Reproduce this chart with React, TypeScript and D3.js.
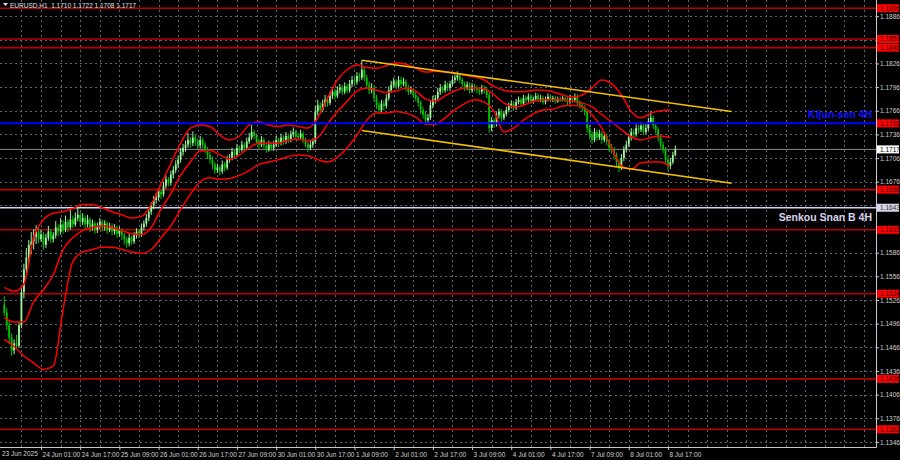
import { useRef, useEffect } from 'react'
import * as d3 from 'd3'

// open, high, low, close
type Bar = [number, number, number, number]

const jun23: Bar[] = [
  [1.1520, 1.1531, 1.1506, 1.1510], [1.1510, 1.1516, 1.1488, 1.1494], [1.1494, 1.1500, 1.1470, 1.1478],
  [1.1478, 1.1484, 1.1455, 1.1462], [1.1462, 1.1476, 1.1457, 1.1471], [1.1471, 1.1482, 1.1463, 1.1468],
  [1.1468, 1.1498, 1.1465, 1.1494], [1.1494, 1.1542, 1.1490, 1.1536], [1.1536, 1.1572, 1.1528, 1.1565],
  [1.1565, 1.1592, 1.1556, 1.1580], [1.1580, 1.1602, 1.1571, 1.1596], [1.1596, 1.1612, 1.1584, 1.1600],
  [1.1600, 1.1616, 1.1590, 1.1606], [1.1606, 1.1621, 1.1597, 1.1612],
]
const jun24: Bar[] = [
  [1.1612, 1.1618, 1.1598, 1.1603], [1.1603, 1.1615, 1.1600, 1.1609], [1.1609, 1.1612, 1.1590, 1.1596],
  [1.1596, 1.1610, 1.1592, 1.1605], [1.1605, 1.1620, 1.1601, 1.1613], [1.1613, 1.1616, 1.1598, 1.1603],
  [1.1603, 1.1612, 1.1599, 1.1608], [1.1608, 1.1626, 1.1604, 1.1618], [1.1618, 1.1622, 1.1607, 1.1613],
  [1.1613, 1.1630, 1.1609, 1.1622], [1.1622, 1.1627, 1.1610, 1.1615], [1.1615, 1.1633, 1.1612, 1.1625],
  [1.1625, 1.1629, 1.1612, 1.1618], [1.1618, 1.1640, 1.1615, 1.1628], [1.1628, 1.1633, 1.1617, 1.1622],
  [1.1622, 1.1637, 1.1619, 1.1630], [1.1630, 1.1645, 1.1626, 1.1634], [1.1634, 1.1638, 1.1620, 1.1625],
  [1.1625, 1.1636, 1.1621, 1.1630], [1.1630, 1.1633, 1.1616, 1.1622], [1.1622, 1.1634, 1.1618, 1.1628],
  [1.1628, 1.1631, 1.1612, 1.1618], [1.1618, 1.1628, 1.1614, 1.1623], [1.1623, 1.1626, 1.1610, 1.1615],
]
const jun25: Bar[] = [
  [1.1615, 1.1624, 1.1611, 1.1620], [1.1620, 1.1630, 1.1616, 1.1625], [1.1625, 1.1628, 1.1613, 1.1618],
  [1.1618, 1.1627, 1.1614, 1.1623], [1.1623, 1.1626, 1.1610, 1.1615], [1.1615, 1.1624, 1.1612, 1.1620],
  [1.1620, 1.1623, 1.1608, 1.1613], [1.1613, 1.1622, 1.1609, 1.1618], [1.1618, 1.1620, 1.1605, 1.1610],
  [1.1610, 1.1619, 1.1606, 1.1615], [1.1615, 1.1617, 1.1602, 1.1608], [1.1608, 1.1611, 1.1596, 1.1603],
  [1.1603, 1.1606, 1.1592, 1.1598], [1.1598, 1.1610, 1.1594, 1.1605], [1.1605, 1.1608, 1.1596, 1.1600],
  [1.1600, 1.1612, 1.1597, 1.1608], [1.1608, 1.1617, 1.1604, 1.1613], [1.1613, 1.1616, 1.1604, 1.1609],
  [1.1609, 1.1623, 1.1606, 1.1618], [1.1618, 1.1627, 1.1614, 1.1623], [1.1623, 1.1635, 1.1619, 1.1630],
  [1.1630, 1.1642, 1.1626, 1.1638], [1.1638, 1.1650, 1.1634, 1.1646], [1.1646, 1.1658, 1.1641, 1.1653],
]
const jun26: Bar[] = [
  [1.1653, 1.1662, 1.1648, 1.1656], [1.1656, 1.1668, 1.1652, 1.1663], [1.1663, 1.1666, 1.1654, 1.1660],
  [1.1660, 1.1676, 1.1657, 1.1671], [1.1671, 1.1684, 1.1667, 1.1679], [1.1679, 1.1682, 1.1670, 1.1675],
  [1.1675, 1.1690, 1.1671, 1.1685], [1.1685, 1.1696, 1.1680, 1.1691], [1.1691, 1.1703, 1.1687, 1.1698],
  [1.1698, 1.1709, 1.1693, 1.1704], [1.1704, 1.1719, 1.1700, 1.1714], [1.1714, 1.1724, 1.1709, 1.1719],
  [1.1719, 1.1728, 1.1714, 1.1723], [1.1723, 1.1738, 1.1719, 1.1729], [1.1729, 1.1733, 1.1719, 1.1725],
  [1.1725, 1.1740, 1.1721, 1.1732], [1.1732, 1.1736, 1.1722, 1.1727], [1.1727, 1.1731, 1.1717, 1.1722],
  [1.1722, 1.1734, 1.1718, 1.1729], [1.1729, 1.1732, 1.1718, 1.1723], [1.1723, 1.1726, 1.1712, 1.1717],
  [1.1717, 1.1720, 1.1705, 1.1710], [1.1710, 1.1714, 1.1699, 1.1704], [1.1704, 1.1708, 1.1692, 1.1698],
]
const jun27: Bar[] = [
  [1.1698, 1.1701, 1.1686, 1.1691], [1.1691, 1.1699, 1.1687, 1.1694], [1.1694, 1.1697, 1.1684, 1.1689],
  [1.1689, 1.1703, 1.1686, 1.1698], [1.1698, 1.1701, 1.1689, 1.1694], [1.1694, 1.1709, 1.1691, 1.1704],
  [1.1704, 1.1711, 1.1700, 1.1706], [1.1706, 1.1719, 1.1703, 1.1714], [1.1714, 1.1717, 1.1705, 1.1710],
  [1.1710, 1.1724, 1.1707, 1.1719], [1.1719, 1.1722, 1.1712, 1.1717], [1.1717, 1.1728, 1.1714, 1.1723],
  [1.1723, 1.1726, 1.1715, 1.1719], [1.1719, 1.1732, 1.1716, 1.1727], [1.1727, 1.1738, 1.1724, 1.1732],
  [1.1732, 1.1748, 1.1729, 1.1739], [1.1739, 1.1742, 1.1730, 1.1734], [1.1734, 1.1737, 1.1723, 1.1727],
  [1.1727, 1.1730, 1.1718, 1.1723], [1.1723, 1.1734, 1.1720, 1.1729], [1.1729, 1.1732, 1.1718, 1.1722],
  [1.1722, 1.1725, 1.1713, 1.1717], [1.1717, 1.1728, 1.1714, 1.1723], [1.1723, 1.1726, 1.1715, 1.1719],
]
const jun30: Bar[] = [
  [1.1719, 1.1728, 1.1715, 1.1723], [1.1723, 1.1734, 1.1720, 1.1729], [1.1729, 1.1732, 1.1720, 1.1725],
  [1.1725, 1.1737, 1.1722, 1.1732], [1.1732, 1.1735, 1.1723, 1.1727], [1.1727, 1.1739, 1.1724, 1.1734],
  [1.1734, 1.1737, 1.1725, 1.1729], [1.1729, 1.1741, 1.1726, 1.1736], [1.1736, 1.1745, 1.1732, 1.1739],
  [1.1739, 1.1742, 1.1730, 1.1734], [1.1734, 1.1738, 1.1728, 1.1732], [1.1732, 1.1742, 1.1729, 1.1737],
  [1.1737, 1.1740, 1.1725, 1.1729], [1.1729, 1.1732, 1.1720, 1.1724], [1.1724, 1.1727, 1.1713, 1.1719],
  [1.1719, 1.1728, 1.1716, 1.1723], [1.1723, 1.1731, 1.1719, 1.1727], [1.1727, 1.1772, 1.1724, 1.1765],
  [1.1765, 1.1780, 1.1760, 1.1773], [1.1773, 1.1777, 1.1762, 1.1767], [1.1767, 1.1780, 1.1764, 1.1775],
  [1.1775, 1.1786, 1.1771, 1.1780], [1.1780, 1.1784, 1.1771, 1.1776], [1.1776, 1.1790, 1.1773, 1.1785],
]
const jul01: Bar[] = [
  [1.1785, 1.1796, 1.1781, 1.1790], [1.1790, 1.1794, 1.1780, 1.1785], [1.1785, 1.1797, 1.1782, 1.1792],
  [1.1792, 1.1800, 1.1788, 1.1795], [1.1795, 1.1799, 1.1786, 1.1790], [1.1790, 1.1802, 1.1787, 1.1797],
  [1.1797, 1.1800, 1.1788, 1.1792], [1.1792, 1.1805, 1.1789, 1.1800], [1.1800, 1.1810, 1.1796, 1.1805],
  [1.1805, 1.1809, 1.1798, 1.1803], [1.1803, 1.1815, 1.1799, 1.1810], [1.1810, 1.1814, 1.1803, 1.1808],
  [1.1808, 1.1830, 1.1805, 1.1818], [1.1818, 1.1822, 1.1804, 1.1808], [1.1808, 1.1812, 1.1794, 1.1799],
  [1.1799, 1.1803, 1.1787, 1.1792], [1.1792, 1.1801, 1.1788, 1.1795], [1.1795, 1.1798, 1.1778, 1.1782],
  [1.1782, 1.1786, 1.1768, 1.1773], [1.1773, 1.1777, 1.1762, 1.1767], [1.1767, 1.1780, 1.1764, 1.1775],
  [1.1775, 1.1779, 1.1766, 1.1772], [1.1772, 1.1787, 1.1769, 1.1782], [1.1782, 1.1797, 1.1779, 1.1792],
]
const jul02: Bar[] = [
  [1.1792, 1.1804, 1.1789, 1.1799], [1.1799, 1.1808, 1.1795, 1.1803], [1.1803, 1.1806, 1.1793, 1.1797],
  [1.1797, 1.1810, 1.1794, 1.1805], [1.1805, 1.1809, 1.1796, 1.1800], [1.1800, 1.1808, 1.1797, 1.1803],
  [1.1803, 1.1806, 1.1791, 1.1795], [1.1795, 1.1799, 1.1786, 1.1790], [1.1790, 1.1797, 1.1787, 1.1792],
  [1.1792, 1.1795, 1.1782, 1.1786], [1.1786, 1.1790, 1.1778, 1.1782], [1.1782, 1.1785, 1.1771, 1.1776],
  [1.1776, 1.1779, 1.1762, 1.1767], [1.1767, 1.1771, 1.1756, 1.1761], [1.1761, 1.1765, 1.1748, 1.1754],
  [1.1754, 1.1762, 1.1750, 1.1757], [1.1757, 1.1779, 1.1754, 1.1773], [1.1773, 1.1785, 1.1769, 1.1780],
  [1.1780, 1.1786, 1.1775, 1.1782], [1.1782, 1.1795, 1.1779, 1.1790], [1.1790, 1.1800, 1.1786, 1.1795],
  [1.1795, 1.1798, 1.1788, 1.1792], [1.1792, 1.1804, 1.1789, 1.1799], [1.1799, 1.1802, 1.1791, 1.1795],
]
const jul03: Bar[] = [
  [1.1795, 1.1804, 1.1791, 1.1800], [1.1800, 1.1810, 1.1797, 1.1805], [1.1805, 1.1812, 1.1801, 1.1808],
  [1.1808, 1.1816, 1.1804, 1.1811], [1.1811, 1.1814, 1.1801, 1.1805], [1.1805, 1.1808, 1.1796, 1.1800],
  [1.1800, 1.1803, 1.1791, 1.1795], [1.1795, 1.1803, 1.1792, 1.1799], [1.1799, 1.1802, 1.1788, 1.1792],
  [1.1792, 1.1801, 1.1789, 1.1797], [1.1797, 1.1800, 1.1791, 1.1795], [1.1795, 1.1798, 1.1788, 1.1792],
  [1.1792, 1.1796, 1.1786, 1.1790], [1.1790, 1.1799, 1.1787, 1.1795], [1.1795, 1.1798, 1.1788, 1.1792],
  [1.1792, 1.1796, 1.1782, 1.1786], [1.1786, 1.1790, 1.1738, 1.1744], [1.1744, 1.1758, 1.1740, 1.1754],
  [1.1754, 1.1757, 1.1744, 1.1749], [1.1749, 1.1764, 1.1746, 1.1760], [1.1760, 1.1769, 1.1756, 1.1765],
  [1.1765, 1.1768, 1.1752, 1.1757], [1.1757, 1.1766, 1.1754, 1.1762], [1.1762, 1.1771, 1.1759, 1.1767],
]
const jul04: Bar[] = [
  [1.1767, 1.1776, 1.1764, 1.1772], [1.1772, 1.1779, 1.1769, 1.1775], [1.1775, 1.1778, 1.1766, 1.1770],
  [1.1770, 1.1781, 1.1767, 1.1777], [1.1777, 1.1784, 1.1774, 1.1780], [1.1780, 1.1783, 1.1771, 1.1775],
  [1.1775, 1.1786, 1.1772, 1.1782], [1.1782, 1.1785, 1.1776, 1.1780], [1.1780, 1.1788, 1.1777, 1.1784],
  [1.1784, 1.1787, 1.1775, 1.1778], [1.1778, 1.1784, 1.1775, 1.1781], [1.1781, 1.1789, 1.1778, 1.1785],
  [1.1785, 1.1788, 1.1777, 1.1780], [1.1780, 1.1786, 1.1777, 1.1782], [1.1782, 1.1785, 1.1774, 1.1777],
  [1.1777, 1.1784, 1.1774, 1.1781], [1.1781, 1.1788, 1.1778, 1.1784], [1.1784, 1.1787, 1.1777, 1.1780],
  [1.1780, 1.1785, 1.1777, 1.1782], [1.1782, 1.1785, 1.1775, 1.1778], [1.1778, 1.1784, 1.1776, 1.1781],
  [1.1781, 1.1784, 1.1777, 1.1780], [1.1780, 1.1785, 1.1778, 1.1782], [1.1782, 1.1784, 1.1777, 1.1780],
]
const jul07: Bar[] = [
  [1.1780, 1.1784, 1.1773, 1.1777], [1.1777, 1.1786, 1.1774, 1.1782], [1.1782, 1.1785, 1.1776, 1.1780],
  [1.1780, 1.1788, 1.1777, 1.1784], [1.1784, 1.1787, 1.1772, 1.1776], [1.1776, 1.1779, 1.1769, 1.1773],
  [1.1773, 1.1776, 1.1765, 1.1770], [1.1770, 1.1773, 1.1760, 1.1765], [1.1765, 1.1768, 1.1738, 1.1744],
  [1.1744, 1.1748, 1.1730, 1.1736], [1.1736, 1.1740, 1.1724, 1.1729], [1.1729, 1.1744, 1.1726, 1.1739],
  [1.1739, 1.1742, 1.1728, 1.1732], [1.1732, 1.1742, 1.1729, 1.1737], [1.1737, 1.1740, 1.1724, 1.1729],
  [1.1729, 1.1739, 1.1726, 1.1734], [1.1734, 1.1737, 1.1722, 1.1727], [1.1727, 1.1730, 1.1714, 1.1719],
  [1.1719, 1.1724, 1.1712, 1.1717], [1.1717, 1.1720, 1.1704, 1.1710], [1.1710, 1.1713, 1.1695, 1.1701],
  [1.1701, 1.1705, 1.1688, 1.1694], [1.1694, 1.1711, 1.1691, 1.1706], [1.1706, 1.1721, 1.1702, 1.1717],
]
const jul08: Bar[] = [
  [1.1717, 1.1728, 1.1713, 1.1723], [1.1723, 1.1737, 1.1720, 1.1732], [1.1732, 1.1744, 1.1728, 1.1739],
  [1.1739, 1.1743, 1.1731, 1.1736], [1.1736, 1.1749, 1.1733, 1.1744], [1.1744, 1.1748, 1.1737, 1.1742],
  [1.1742, 1.1752, 1.1739, 1.1747], [1.1747, 1.1750, 1.1735, 1.1739], [1.1739, 1.1749, 1.1736, 1.1744],
  [1.1744, 1.1757, 1.1741, 1.1752], [1.1752, 1.1765, 1.1749, 1.1757], [1.1757, 1.1760, 1.1743, 1.1747],
  [1.1747, 1.1750, 1.1737, 1.1742], [1.1742, 1.1745, 1.1727, 1.1732], [1.1732, 1.1735, 1.1718, 1.1723],
  [1.1723, 1.1727, 1.1712, 1.1717], [1.1717, 1.1720, 1.1699, 1.1704], [1.1704, 1.1708, 1.1690, 1.1696],
  [1.1696, 1.1706, 1.1692, 1.1701], [1.1701, 1.1714, 1.1698, 1.1710], [1.1710, 1.1722, 1.1708, 1.1717],
]

const candles: Bar[] = [
  ...jun23, ...jun24, ...jun25, ...jun26, ...jun27,
  ...jun30, ...jul01, ...jul02, ...jul03, ...jul04,
  ...jul07, ...jul08,
]

// Bollinger bands, read every 4th bar
const bandStep = 4
const upperBand = [
  1.1542, 1.1537, 1.1546, 1.1605, 1.1628, 1.1636, 1.1638, 1.1642, 1.1647, 1.1647,
  1.1643, 1.1638, 1.1634, 1.1630, 1.1632, 1.1647, 1.1673, 1.1699, 1.1725, 1.1744,
  1.1748, 1.1746, 1.1735, 1.1729, 1.1734, 1.1748, 1.1752, 1.1748, 1.1746, 1.1748,
  1.1746, 1.1744, 1.1757, 1.1782, 1.1805, 1.1818, 1.1824, 1.1821, 1.1820, 1.1823,
  1.1827, 1.1825, 1.1820, 1.1815, 1.1816, 1.1815, 1.1814, 1.1811, 1.1809, 1.1805,
  1.1797, 1.1792, 1.1790, 1.1790, 1.1792, 1.1792, 1.1790, 1.1786, 1.1783, 1.1786,
  1.1795, 1.1805, 1.1800, 1.1786, 1.1765, 1.1757, 1.1763, 1.1766, 1.1767,
]
const middleBand = [
  1.1504, 1.1498, 1.1498, 1.1524, 1.1539, 1.1558, 1.1590, 1.1605, 1.1614, 1.1618,
  1.1620, 1.1618, 1.1614, 1.1610, 1.1609, 1.1618, 1.1641, 1.1661, 1.1684, 1.1701,
  1.1715, 1.1716, 1.1710, 1.1705, 1.1710, 1.1719, 1.1725, 1.1725, 1.1725, 1.1729,
  1.1730, 1.1728, 1.1732, 1.1749, 1.1765, 1.1778, 1.1791, 1.1795, 1.1792, 1.1789,
  1.1791, 1.1795, 1.1791, 1.1781, 1.1778, 1.1785, 1.1791, 1.1795, 1.1795, 1.1794,
  1.1786, 1.1776, 1.1771, 1.1773, 1.1778, 1.1780, 1.1780, 1.1780, 1.1778, 1.1776,
  1.1771, 1.1761, 1.1752, 1.1742, 1.1733, 1.1729, 1.1732, 1.1734, 1.1732,
]
const lowerBand = [
  1.1476, 1.1467, 1.1455, 1.1446, 1.1438, 1.1442, 1.1514, 1.1575, 1.1587, 1.1590,
  1.1593, 1.1593, 1.1590, 1.1587, 1.1585, 1.1590, 1.1605, 1.1620, 1.1641, 1.1660,
  1.1676, 1.1681, 1.1679, 1.1680, 1.1684, 1.1690, 1.1698, 1.1701, 1.1704, 1.1708,
  1.1710, 1.1709, 1.1704, 1.1701, 1.1707, 1.1719, 1.1735, 1.1754, 1.1763, 1.1763,
  1.1765, 1.1763, 1.1758, 1.1749, 1.1749, 1.1757, 1.1767, 1.1775, 1.1780, 1.1777,
  1.1765, 1.1739, 1.1744, 1.1754, 1.1762, 1.1767, 1.1768, 1.1772, 1.1773, 1.1771,
  1.1761, 1.1744, 1.1719, 1.1696, 1.1692, 1.1700, 1.1701, 1.1701, 1.1695,
]

// trend channel: [bar index, price]
const channelTop: [number, number][] = [[146, 1.1830], [297, 1.1765]]
const channelBottom: [number, number][] = [[146, 1.1741], [297, 1.1674]]

const redLevels = [1.1896, 1.1857, 1.1846, 1.1666, 1.1615, 1.1534, 1.1426, 1.1362]
const kijun4h = 1.1750
const senkouB4h = 1.1643
const lastPrice = 1.1717

const priceTicks = [
  1.1886, 1.1856, 1.1826, 1.1796, 1.1766, 1.1736, 1.1706, 1.1676, 1.1646, 1.1616,
  1.1586, 1.1556, 1.1526, 1.1496, 1.1466, 1.1436, 1.1406, 1.1376, 1.1346,
]
const firstDateLabel = '23 Jun 2025'
const timeLabels = [
  '24 Jun 01:00', '24 Jun 17:00', '25 Jun 09:00', '26 Jun 01:00', '26 Jun 17:00',
  '27 Jun 09:00', '30 Jun 01:00', '30 Jun 17:00', '1 Jul 09:00', '2 Jul 01:00',
  '2 Jul 17:00', '3 Jul 09:00', '4 Jul 01:00', '4 Jul 17:00', '7 Jul 09:00',
  '8 Jul 01:00', '8 Jul 17:00',
]
const firstLabelBar = 15
const labelEvery = 16

const title = 'EURUSD,H1  1.1710 1.1722 1.1708 1.1717'

const W = 900
const H = 460
const plotRight = 876
const plotBottom = 447
const font = '"Liberation Sans", Arial, sans-serif'

const App = () => {
  const svgRef = useRef<SVGSVGElement>(null)

  useEffect(() => {
    if (!svgRef.current) return
    const svg = d3.select(svgRef.current)
    svg.selectAll('*').remove()

    const x = d3.scaleLinear().domain([0, candles.length - 1]).range([4.3, 675.3])
    const y = d3.scaleLinear().domain([1.1362, 1.1857]).range([429.3, 39])

    svg.append('rect').attr('width', W).attr('height', H).attr('fill', '#000')

    svg.append('defs').append('clipPath').attr('id', 'plot')
      .append('rect').attr('width', plotRight).attr('height', plotBottom)

    const g = svg.append('g').attr('clip-path', 'url(#plot)')

    // grid
    const gridBars = d3.range(7, 360, 8)
    g.selectAll('.vgrid').data(gridBars).join('line')
      .attr('x1', d => Math.round(x(d)) + 0.5).attr('x2', d => Math.round(x(d)) + 0.5)
      .attr('y1', 0).attr('y2', plotBottom)
      .attr('stroke', '#5f6470').attr('stroke-dasharray', '2,3')
    g.selectAll('.hgrid').data(priceTicks).join('line')
      .attr('x1', 0).attr('x2', plotRight)
      .attr('y1', d => Math.round(y(d)) + 0.5).attr('y2', d => Math.round(y(d)) + 0.5)
      .attr('stroke', '#5f6470').attr('stroke-dasharray', '2,3')

    // horizontal levels
    g.selectAll('.lvl').data(redLevels).join('line')
      .attr('x1', 0).attr('x2', plotRight)
      .attr('y1', d => y(d)).attr('y2', d => y(d))
      .attr('stroke', '#b80000').attr('stroke-width', 1.6)
    g.append('line').attr('x1', 0).attr('x2', plotRight)
      .attr('y1', y(lastPrice)).attr('y2', y(lastPrice))
      .attr('stroke', '#8a8a8a').attr('stroke-width', 1)
    g.append('line').attr('x1', 0).attr('x2', plotRight)
      .attr('y1', y(senkouB4h)).attr('y2', y(senkouB4h))
      .attr('stroke', '#d8d4ec').attr('stroke-width', 1.6)

    // candles
    const bars = g.append('g')
    bars.selectAll('.wick').data(candles).join('line')
      .attr('x1', (_, i) => x(i)).attr('x2', (_, i) => x(i))
      .attr('y1', d => y(d[1])).attr('y2', d => y(d[2]))
      .attr('stroke', d => (d[3] >= d[0] ? '#9cf59c' : '#00c400')).attr('stroke-width', 1)
    bars.selectAll('.body').data(candles).join('rect')
      .attr('x', (_, i) => x(i) - 0.9).attr('width', 1.8)
      .attr('y', d => y(Math.max(d[0], d[3])))
      .attr('height', d => Math.max(1, Math.abs(y(d[0]) - y(d[3]))))
      .attr('fill', d => (d[3] >= d[0] ? '#9cf59c' : '#00c400'))

    // bollinger bands
    const bandLine = d3.line<number>()
      .x((_, i) => x(i * bandStep))
      .y(d => y(d))
      .curve(d3.curveMonotoneX)
    for (const band of [upperBand, middleBand, lowerBand]) {
      g.append('path').datum(band)
        .attr('fill', 'none').attr('stroke', '#ff0000').attr('stroke-width', 1.5)
        .attr('d', bandLine)
    }

    // kijun-sen 4H
    g.append('line').attr('x1', 0).attr('x2', plotRight)
      .attr('y1', y(kijun4h)).attr('y2', y(kijun4h))
      .attr('stroke', '#0000ff').attr('stroke-width', 2)

    // channel
    const chLine = d3.line<[number, number]>().x(d => x(d[0])).y(d => y(d[1]))
    for (const ch of [channelTop, channelBottom]) {
      g.append('path').datum(ch)
        .attr('fill', 'none').attr('stroke', '#f0c000').attr('stroke-width', 1.6)
        .attr('d', chLine)
    }

    g.append('text').attr('x', 872).attr('y', y(kijun4h) - 5)
      .attr('text-anchor', 'end').attr('font-family', font).attr('font-weight', 'bold')
      .attr('font-size', 10.5).attr('fill', '#1010ff').text('Kijun-sen 4H')
    g.append('text').attr('x', 872).attr('y', y(senkouB4h) + 13)
      .attr('text-anchor', 'end').attr('font-family', font).attr('font-weight', 'bold')
      .attr('font-size', 10.5).attr('fill', '#d8d4ec').text('Senkou Snan B 4H')

    // frame
    svg.append('line').attr('x1', plotRight + 0.5).attr('x2', plotRight + 0.5)
      .attr('y1', 0).attr('y2', plotBottom + 0.5).attr('stroke', '#c8c8c8')
    svg.append('line').attr('x1', 0).attr('x2', plotRight + 0.5)
      .attr('y1', plotBottom + 0.5).attr('y2', plotBottom + 0.5).attr('stroke', '#c8c8c8')

    // price labels of the level lines
    const tags = [
      ...redLevels.map(p => ({ p, bg: '#ff0000', fg: '#300000' })),
      { p: kijun4h, bg: '#ff0000', fg: '#300000' },
      { p: senkouB4h, bg: '#d8d4ec', fg: '#303030' },
      { p: lastPrice, bg: '#ffffff', fg: '#000000' },
    ]
    const tagY = (p: number) => Math.max(y(p), 5)

    // price axis (labels hidden where a level tag covers them)
    const labelTicks = priceTicks.filter(t => tags.every(d => Math.abs(tagY(d.p) - y(t)) > 5))
    const yAxis = svg.append('g').attr('transform', `translate(${plotRight},0)`)
      .call(d3.axisRight(y).tickValues(labelTicks).tickFormat(d3.format('.4f')).tickSize(3).tickPadding(1))
    yAxis.select('.domain').remove()
    yAxis.selectAll('line').attr('stroke', '#c8c8c8')
    yAxis.selectAll('text').attr('fill', '#d0d0d0').attr('font-family', font).attr('font-size', 6.5)

    // time axis
    const tickBars = timeLabels.map((_, i) => firstLabelBar + i * labelEvery)
    const xAxis = svg.append('g').attr('transform', `translate(0,${plotBottom})`)
      .call(d3.axisBottom(x).tickValues(tickBars)
        .tickFormat((_, i) => timeLabels[i]).tickSize(3).tickPadding(2))
    xAxis.select('.domain').remove()
    xAxis.selectAll('line').attr('stroke', '#c8c8c8')
    xAxis.selectAll('text').attr('fill', '#d0d0d0').attr('font-family', font)
      .attr('font-size', 6.5).attr('text-anchor', 'start').attr('dx', 1)
    svg.append('text').attr('x', 2).attr('y', 456).attr('fill', '#d0d0d0')
      .attr('font-family', font).attr('font-size', 6.5).text(firstDateLabel)

    const tag = svg.selectAll('.tag').data(tags).join('g')
      .attr('transform', d => `translate(${plotRight + 1},${tagY(d.p)})`)
    tag.append('rect').attr('x', 0).attr('y', -4).attr('width', 22).attr('height', 8)
      .attr('fill', d => d.bg)
    tag.append('text').attr('x', 3).attr('y', 2.3).attr('font-family', font)
      .attr('font-size', 6.5).attr('fill', d => d.fg).text(d => d3.format('.4f')(d.p))

    // title
    svg.append('path').attr('d', 'M3,3 L8,3 L5.5,6 Z').attr('fill', '#e0e0e0')
    svg.append('text').attr('x', 10).attr('y', 7.5).attr('fill', '#e0e0e0')
      .attr('font-family', font).attr('font-size', 6.5).attr('xml:space', 'preserve').text(title)
  }, [])

  return (
    <svg
      ref={svgRef}
      width={W}
      height={H}
      style={{ position: 'fixed', left: 0, top: 0, display: 'block' }}
    />
  )
}

export default App
